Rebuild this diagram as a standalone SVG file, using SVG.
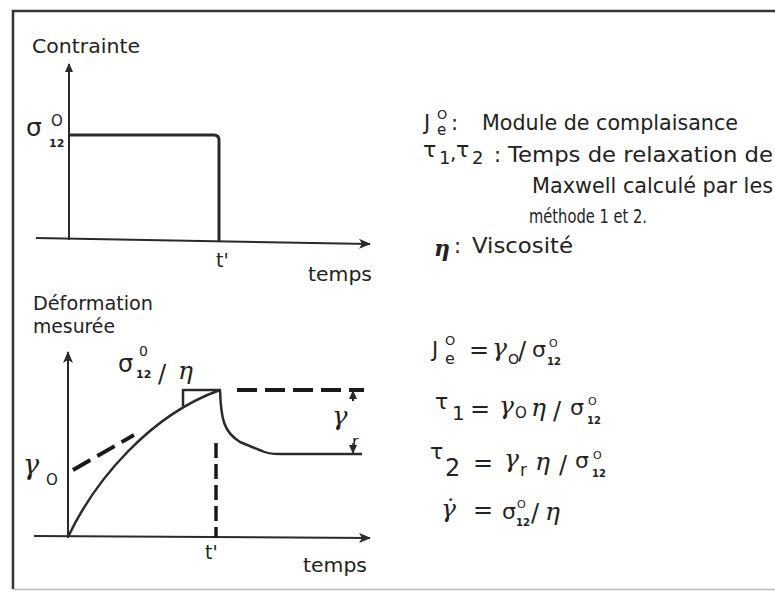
<svg xmlns="http://www.w3.org/2000/svg" width="775" height="592" viewBox="0 0 775 592">
<defs>
<marker id="arr" markerUnits="userSpaceOnUse" markerWidth="12" markerHeight="10" refX="11" refY="5" orient="auto"><path d="M0,0 L12,5 L0,10 L3,5 z" fill="#2a2a2a"/></marker>
<marker id="arrs" markerUnits="userSpaceOnUse" markerWidth="9" markerHeight="8" refX="8" refY="4" orient="auto"><path d="M0,0 L9,4 L0,8 z" fill="#2a2a2a"/></marker>
</defs>
<style>
.t{font-family:"DejaVu Sans","Liberation Sans",sans-serif;fill:#222}
.g{font-family:"DejaVu Serif","Liberation Serif",serif;font-style:italic;fill:#222}
.s{font-family:"DejaVu Sans","Liberation Sans",sans-serif;fill:#222}
.b{font-family:"DejaVu Sans","Liberation Sans",sans-serif;font-weight:bold;fill:#222}
.ax{stroke:#2a2a2a;stroke-width:2;fill:none}
.thk{stroke:#2a2a2a;stroke-width:3;fill:none;stroke-linejoin:round}
.dash{stroke:#1a1a1a;stroke-width:4;fill:none}
</style>
<rect width="775" height="592" fill="#fff"/>
<g id="frame">
<path d="M13,589 L13,11 L775,11" stroke="#333" stroke-width="2.5" fill="none"/>
<line x1="13" y1="589.5" x2="775" y2="589.5" stroke="#bbb" stroke-width="1.5"/>
</g>
<g id="connectors">
<line class="ax" x1="69" y1="240" x2="69" y2="64" marker-end="url(#arrs)"/>
<line class="ax" x1="36" y1="238" x2="370" y2="244" marker-end="url(#arr)"/>
<line class="ax" x1="68" y1="538" x2="68" y2="352" marker-end="url(#arr)"/>
<line class="ax" x1="34" y1="536" x2="370" y2="538" marker-end="url(#arr)"/>
<path class="thk" d="M70,135 H214 Q219,135 219,140 V241"/>
<path class="thk" style="stroke-width:2.5" d="M68,537 C95,480 150,415 220,390 C221,420 224,432 240,442 L262,451 Q268,454 280,454 H362"/>
<path class="thk" style="stroke-width:2.5" d="M183,406 V390 H220"/>
<line class="dash" x1="73" y1="470" x2="134" y2="435" stroke-dasharray="20 8"/>
<line class="dash" x1="237" y1="390" x2="364" y2="390" stroke-dasharray="20 8"/>
<line class="dash" style="stroke-width:3.5" x1="216" y1="443" x2="216" y2="538" stroke-dasharray="15 6"/>
<line x1="353" y1="401" x2="353" y2="391" stroke="#222" stroke-width="2" marker-end="url(#arrs)"/>
<line x1="353" y1="443" x2="353" y2="453" stroke="#222" stroke-width="1.5" marker-end="url(#arrs)"/>
</g>
<g id="top-labels">
<text class="t" style="font-size:20px" x="32" y="53" textLength="108" lengthAdjust="spacingAndGlyphs">Contrainte</text>
<text class="s" style="font-size:25px" x="26" y="136">σ<tspan x="51" y="126" style="font-size:15px">O</tspan><tspan x="49" y="147" style="font-size:11px;font-weight:bold">12</tspan></text>
<text class="t" style="font-size:19px" x="216" y="267">t'</text>
<text class="t" style="font-size:20px" x="308" y="281" textLength="64" lengthAdjust="spacingAndGlyphs">temps</text>
</g>
<g id="bottom-labels">
<text class="t" style="font-size:20px" x="33" y="310" textLength="120" lengthAdjust="spacingAndGlyphs">Déformation</text>
<text class="t" style="font-size:20px" x="33" y="333" textLength="82" lengthAdjust="spacingAndGlyphs">mesurée</text>
<text class="s" style="font-size:24px" x="118" y="372">σ<tspan x="139" y="356" style="font-size:14px">0</tspan><tspan x="136" y="378" style="font-size:11px;font-weight:bold">12</tspan></text>
<text class="t" style="font-size:24px" x="158" y="382">/</text>
<text class="g" style="font-size:25px" x="178" y="379">η</text>
<text class="g" style="font-size:27px" x="23" y="474">γ</text>
<text class="s" style="font-size:15px" x="46" y="485">O</text>
<text class="g" style="font-size:26px" x="332" y="425">γ</text>
<text class="s" style="font-size:16px" x="352" y="447">r</text>
<text class="t" style="font-size:19px" x="205" y="559">t'</text>
<text class="t" style="font-size:20px" x="303" y="572" textLength="64" lengthAdjust="spacingAndGlyphs">temps</text>
</g>
<g id="legend">
<text class="t" style="font-size:21px" x="424" y="130">J<tspan x="437" y="119" style="font-size:13px">O</tspan><tspan x="437" y="135" style="font-size:15px">e</tspan></text>
<text class="t" style="font-size:21px" x="451" y="130">:</text>
<text class="t" style="font-size:21px" x="482" y="130" textLength="256" lengthAdjust="spacingAndGlyphs">Module de complaisance</text>
<text class="s" style="font-size:22px" x="423" y="157">τ</text>
<text class="t" style="font-size:18px" x="439" y="164">1</text>
<text class="t" style="font-size:20px" x="450" y="160">,</text>
<text class="s" style="font-size:22px" x="456" y="157">τ</text>
<text class="t" style="font-size:18px" x="472" y="164">2</text>
<text class="t" style="font-size:21px" x="494" y="162">:</text>
<text class="t" style="font-size:21px" x="508" y="162" textLength="265" lengthAdjust="spacingAndGlyphs">Temps de relaxation de</text>
<text class="t" style="font-size:21px" x="532" y="193" textLength="241" lengthAdjust="spacingAndGlyphs">Maxwell calculé par les</text>
<text class="t" style="font-size:19px" x="529" y="223" textLength="118" lengthAdjust="spacingAndGlyphs">méthode 1 et 2.</text>
<text class="g" style="font-size:22px;font-weight:bold" x="434" y="256">η</text>
<text class="t" style="font-size:21px" x="454" y="253">:</text>
<text class="t" style="font-size:21px" x="472" y="253" textLength="101" lengthAdjust="spacingAndGlyphs">Viscosité</text>
</g>
<g id="equations">
<text class="t" style="font-size:21px" x="432" y="357">J<tspan x="445" y="345" style="font-size:13px">O</tspan><tspan x="445" y="364" style="font-size:16px">e</tspan></text>
<text class="t" style="font-size:24px" x="469" y="358">=</text>
<text class="g" style="font-size:25px" x="492" y="356">γ</text>
<text class="s" style="font-size:14px" x="508" y="364">O</text>
<text class="t" style="font-size:24px" x="518" y="359">/</text>
<text class="s" style="font-size:22px" x="532" y="357">σ<tspan x="549" y="347" style="font-size:11px">O</tspan><tspan x="547" y="365" style="font-size:10px;font-weight:bold">12</tspan></text>
<text class="s" style="font-size:22px" x="435" y="409">τ</text>
<text class="t" style="font-size:20px" x="452" y="420">1</text>
<text class="t" style="font-size:24px" x="470" y="417">=</text>
<text class="g" style="font-size:25px" x="499" y="414">γ</text>
<text class="s" style="font-size:15px" x="515" y="418">O</text>
<text class="g" style="font-size:25px" x="531" y="416">η</text>
<text class="t" style="font-size:24px" x="553" y="419">/</text>
<text class="s" style="font-size:22px" x="570" y="415">σ<tspan x="588" y="405" style="font-size:11px">O</tspan><tspan x="587" y="424" style="font-size:10px;font-weight:bold">12</tspan></text>
<text class="s" style="font-size:22px" x="430" y="459">τ</text>
<text class="t" style="font-size:24px" x="445" y="476">2</text>
<text class="t" style="font-size:24px" x="473" y="471">=</text>
<text class="g" style="font-size:25px" x="504" y="467">γ</text>
<text class="s" style="font-size:17px" x="520" y="476">r</text>
<text class="g" style="font-size:25px" x="535" y="470">η</text>
<text class="t" style="font-size:24px" x="559" y="473">/</text>
<text class="s" style="font-size:22px" x="575" y="468">σ<tspan x="593" y="459" style="font-size:11px">O</tspan><tspan x="592" y="477" style="font-size:10px;font-weight:bold">12</tspan></text>
<text class="g" style="font-size:25px" x="441" y="517">γ̇</text>
<text class="t" style="font-size:24px" x="473" y="518">=</text>
<text class="s" style="font-size:22px" x="502" y="519">σ<tspan x="517" y="508" style="font-size:11px">O</tspan><tspan x="516" y="526" style="font-size:10px;font-weight:bold">12</tspan></text>
<text class="t" style="font-size:24px" x="531" y="521">/</text>
<text class="g" style="font-size:25px" x="545" y="520">η</text>
</g>
</svg>
